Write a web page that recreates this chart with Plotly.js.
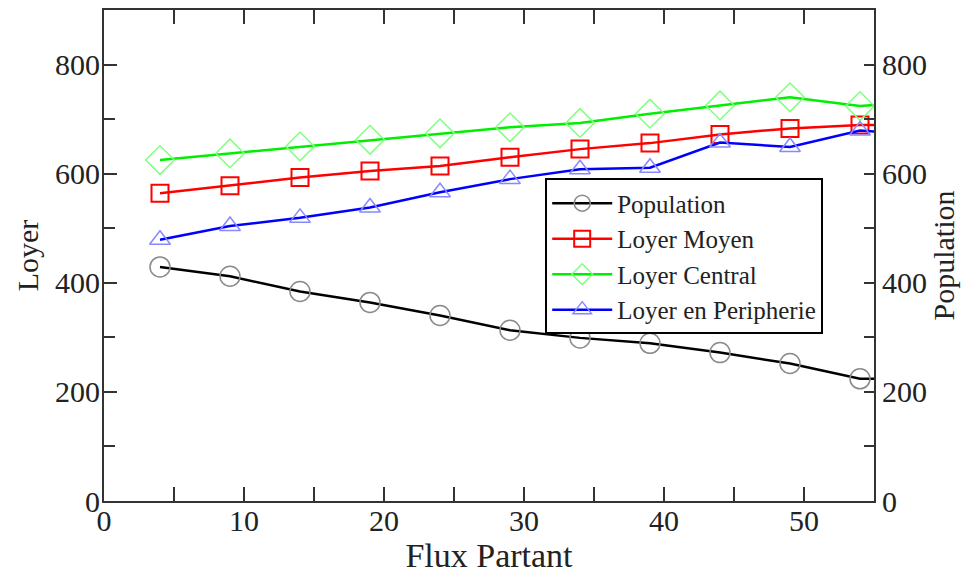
<!DOCTYPE html>
<html>
<head>
<meta charset="utf-8">
<script src="https://cdn.plot.ly/plotly-3.0.1.min.js"></script>
<style>html,body{margin:0;padding:0;background:#fff;}#chart{width:966px;height:576px;}</style>
</head>
<body>
<div id="chart"></div>
<script>
const fluxPartant = [4, 9, 14, 19, 24, 29, 34, 39, 44, 49, 54, 59];
const population = [429, 412, 384, 364, 340, 313, 299, 289, 272, 252, 224, 225];
const loyerMoyen = [564, 578, 593, 605, 614, 630, 645, 656, 672, 683, 689, 690];
const loyerCentral = [625, 637, 650, 662, 674, 685, 693, 710, 725, 740, 724, 734];
const loyerPeripherie = [479, 504, 519, 538, 566, 590, 608, 611, 657, 649, 679, 671];

const serif = 'Liberation Serif, Times New Roman, serif';
const axisColor = '#333333';

const traces = [
  {x: fluxPartant, y: population, name: 'Population', yaxis: 'y2', mode: 'lines+markers',
   line: {color: '#000000', width: 2.5},
   marker: {symbol: 'circle-open', size: 20, color: '#8a8a8a', line: {width: 1.5}}},
  {x: fluxPartant, y: loyerMoyen, name: 'Loyer Moyen', mode: 'lines+markers',
   line: {color: '#ff0000', width: 2.5},
   marker: {symbol: 'square-open', size: 17, color: '#ff0000', line: {width: 2}}},
  {x: fluxPartant, y: loyerCentral, name: 'Loyer Central', mode: 'lines+markers',
   line: {color: '#00ee00', width: 2.5},
   marker: {symbol: 'diamond-open', size: 22, color: '#80ff80', line: {width: 1.5}}},
  {x: fluxPartant, y: loyerPeripherie, name: 'Loyer en Peripherie', mode: 'lines+markers',
   line: {color: '#0000ff', width: 2.5},
   marker: {symbol: 'triangle-up-open', size: 18, color: '#8888ff', line: {width: 1.5}}}
];

const layout = {
  width: 966, height: 576,
  margin: {l: 104, r: 92, t: 10, b: 75},
  paper_bgcolor: '#ffffff', plot_bgcolor: '#ffffff',
  font: {family: serif, color: '#222222', size: 28},
  showlegend: true,
  hovermode: false,
  xaxis: {
    range: [0, 55], dtick: 10, tick0: 0,
    ticks: 'inside', ticklen: 14, tickwidth: 2, tickcolor: axisColor,
    minor: {dtick: 5, ticks: 'inside', ticklen: 9, tickwidth: 2, tickcolor: axisColor},
    showline: true, linecolor: axisColor, linewidth: 2, mirror: 'allticks',
    showgrid: false, zeroline: false,
    ticklabelstandoff: -8,
    tickfont: {family: serif, size: 30, color: '#222222'},
    title: {text: 'Flux Partant', font: {family: serif, size: 34, color: '#222222'}, standoff: 2}
  },
  yaxis: {
    range: [0, 900], dtick: 200, tick0: 0,
    ticks: 'inside', ticklen: 13, tickwidth: 2, tickcolor: axisColor,
    minor: {dtick: 100, ticks: 'inside', ticklen: 11, tickwidth: 2, tickcolor: axisColor},
    showline: true, linecolor: axisColor, linewidth: 2,
    showgrid: false, zeroline: false,
    ticklabelstandoff: -4,
    tickfont: {family: serif, size: 30, color: '#222222'},
    title: {text: 'Loyer', font: {family: serif, size: 30, color: '#222222'}, standoff: 8}
  },
  yaxis2: {
    range: [0, 900], dtick: 200, tick0: 0, overlaying: 'y', side: 'right',
    ticks: 'inside', ticklen: 10, tickwidth: 2, tickcolor: axisColor,
    minor: {dtick: 100, ticks: 'inside', ticklen: 10, tickwidth: 2, tickcolor: axisColor},
    showline: true, linecolor: axisColor, linewidth: 2,
    showgrid: false, zeroline: false,
    tickfont: {family: serif, size: 30, color: '#222222'},
    title: {text: 'Population', font: {family: serif, size: 30, color: '#222222'}, standoff: 6}
  },
  legend: {
    x: 0.573, y: 0.657, xanchor: 'left', yanchor: 'top',
    bgcolor: '#ffffff', bordercolor: '#000000', borderwidth: 2,
    font: {family: serif, size: 25, color: '#222222'},
    itemwidth: 60, tracegroupgap: 0
  }
};

Plotly.newPlot('chart', traces, layout, {staticPlot: true, displayModeBar: false});
</script>
</body>
</html>
